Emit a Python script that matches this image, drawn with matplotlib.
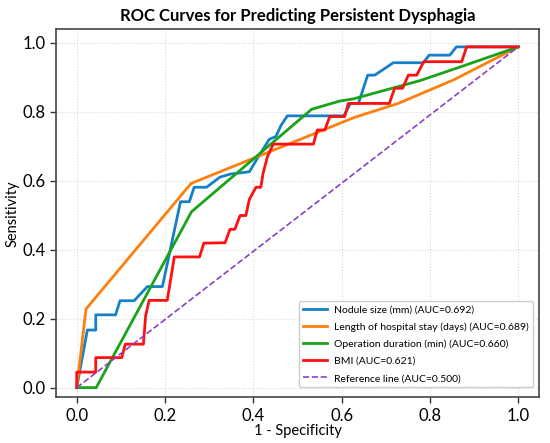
import matplotlib
matplotlib.use("Agg")
import matplotlib.pyplot as plt

# ---- data ----
nodule_fpr = [0, 0.024, 0.043, 0.043, 0.088, 0.098, 0.13, 0.16, 0.194, 0.235, 0.255, 0.266, 0.294,
              0.324, 0.347, 0.391, 0.406, 0.436, 0.451, 0.463, 0.477, 0.605, 0.62, 0.638, 0.659,
              0.675, 0.717, 0.785, 0.798, 0.845, 0.86, 1.0]
nodule_tpr = [0, 0.167, 0.167, 0.211, 0.211, 0.252, 0.252, 0.293, 0.293, 0.539, 0.539, 0.581, 0.581,
              0.61, 0.619, 0.626, 0.658, 0.72, 0.728, 0.761, 0.788, 0.788, 0.824, 0.824, 0.906,
              0.906, 0.942, 0.942, 0.964, 0.964, 0.988, 0.988]

stay_fpr = [0, 0.021, 0.259, 0.63, 0.728, 0.853, 1.0]
stay_tpr = [0, 0.228, 0.592, 0.784, 0.824, 0.892, 0.988]

oper_fpr = [0, 0.044, 0.26, 0.532, 0.596, 0.626, 0.777, 0.86, 1.0]
oper_tpr = [0, 0.0, 0.51, 0.807, 0.831, 0.837, 0.89, 0.926, 0.988]

bmi_fpr = [0, 0, 0.043, 0.043, 0.102, 0.11, 0.151, 0.156, 0.164, 0.205, 0.221, 0.278, 0.288, 0.336,
           0.347, 0.358, 0.37, 0.383, 0.391, 0.406, 0.417, 0.422, 0.432, 0.445, 0.536, 0.545,
           0.562, 0.573, 0.607, 0.615, 0.708, 0.72, 0.738, 0.751, 0.77, 0.786, 0.872, 0.883, 1.0]
bmi_tpr = [0, 0.045, 0.045, 0.087, 0.087, 0.126, 0.126, 0.208, 0.253, 0.253, 0.379, 0.379, 0.419, 0.42,
           0.459, 0.459, 0.499, 0.499, 0.546, 0.581, 0.581, 0.621, 0.67, 0.706, 0.706, 0.747,
           0.747, 0.786, 0.786, 0.824, 0.824, 0.868, 0.868, 0.906, 0.906, 0.945, 0.945, 0.988, 0.988]

ref_fpr = [0, 1.0]
ref_tpr = [0, 0.988]

labels = ["Nodule size (mm) (AUC=0.692)",
          "Length of hospital stay (days) (AUC=0.689)",
          "Operation duration (min) (AUC=0.660)",
          "BMI (AUC=0.621)",
          "Reference line (AUC=0.500)"]
xticks = [0.0, 0.2, 0.4, 0.6, 0.8, 1.0]
yticks = [0.0, 0.2, 0.4, 0.6, 0.8, 1.0]

plt.rcParams['font.family'] = ['Lato', 'DejaVu Sans']

fig = plt.figure(figsize=(5.5, 4.43), dpi=100)
ax = fig.add_axes([0.1018, 0.1032, 0.8782, 0.8307])

ax.plot(nodule_fpr, nodule_tpr, color='#1580c8', lw=2.0, label=labels[0])
ax.plot(stay_fpr, stay_tpr, color='#ff7f0e', lw=2.0, label=labels[1])
ax.plot(oper_fpr, oper_tpr, color='#1aa31a', lw=2.0, label=labels[2])
ax.plot(bmi_fpr, bmi_tpr, color='#ff1010', lw=2.0, label=labels[3])
ax.plot(ref_fpr, ref_tpr, color='#8a3fc8', lw=1.2, ls='--', label=labels[4])

ax.set_xlim(-0.047, 1.047)
ax.set_ylim(-0.028, 1.039)
ax.set_xticks(xticks)
ax.set_yticks(yticks)
ax.set_xticklabels([f"{v:.1f}" for v in xticks])
ax.set_yticklabels([f"{v:.1f}" for v in yticks])
ax.tick_params(labelsize=12, length=4, width=1, color='#333333')
ax.grid(True, ls=':', lw=0.8, color='#cccccc', alpha=0.8)
for s in ax.spines.values():
    s.set_color('#444444')
    s.set_linewidth(1.2)

ax.set_xlabel("1 - Specificity", fontsize=10.5, labelpad=0)
ax.set_ylabel("Sensitivity", fontsize=10.5, labelpad=2)
ax.set_title("ROC Curves for Predicting Persistent Dysphagia", fontsize=12, fontweight='bold', pad=6)

leg = ax.legend(loc='lower right', bbox_to_anchor=(1 - 6 / 483, 10 / 368), borderaxespad=0,
                fontsize=7.5, frameon=True, framealpha=1.0,
                edgecolor='#cccccc', fancybox=True, labelspacing=0.75, handlelength=2.24,
                handletextpad=0.7)

fig.savefig("out.png", dpi=100)
